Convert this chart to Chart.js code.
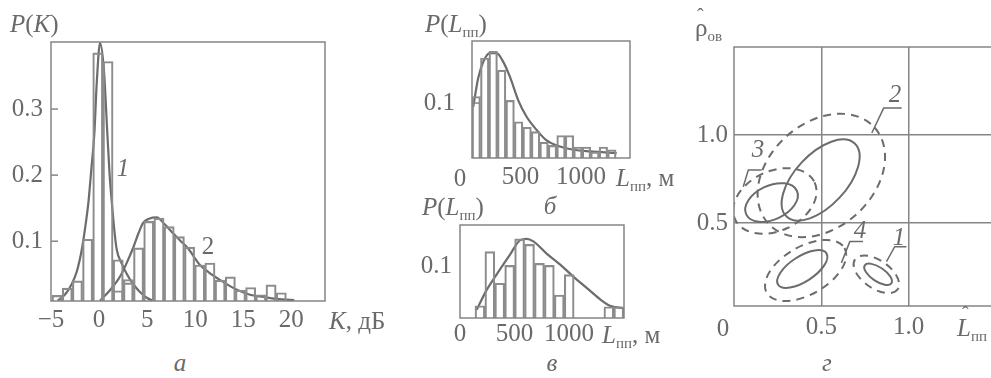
<!DOCTYPE html>
<html><head><meta charset="utf-8">
<script src="https://cdn.jsdelivr.net/npm/chart.js@4.4.0/dist/chart.umd.min.js"></script>
<style>
html,body{margin:0;padding:0;background:#fff;width:991px;height:378px;overflow:hidden;position:relative;}
canvas{position:absolute;}
.t{position:absolute;font-family:"Liberation Serif","Times New Roman",serif;font-size:25px;color:#6a6a6a;line-height:1;white-space:nowrap;transform:translate(-50%,-50%);}
.l{transform:translate(0,-50%);}
.s{font-size:15px;position:relative;top:5px;font-style:normal;}
.h{position:relative;display:inline-block;}
.hat{position:absolute;left:5px;top:-11px;font-style:normal;font-size:20px;}
</style></head><body>
<canvas id="ca" width="340" height="345" style="left:0;top:0"></canvas>
<canvas id="cb" width="230" height="200" style="left:420px;top:0"></canvas>
<canvas id="cv" width="250" height="170" style="left:400px;top:190px"></canvas>
<canvas id="cg" width="310" height="378" style="left:690px;top:0"></canvas>

<div class="t l" style="left:10px;top:23px"><i>P</i>(<i>K</i>)</div>
<div class="t l" style="left:329px;top:320px"><i>K</i>, дБ</div>
<div class="t" style="left:123px;top:167px"><i>1</i></div>
<div class="t" style="left:208px;top:245px">2</div>
<div class="t" style="left:180px;top:362px"><i>а</i></div>

<div class="t l" style="left:425px;top:23px"><i>P</i>(<i>L</i><span class="s">пп</span>)</div>
<div class="t" style="left:460px;top:177px">0</div>
<div class="t l" style="left:616px;top:177px"><i>L</i><span class="s">пп</span>, м</div>
<div class="t" style="left:550px;top:205px"><i>б</i></div>

<div class="t l" style="left:422px;top:206px"><i>P</i>(<i>L</i><span class="s">пп</span>)</div>
<div class="t l" style="left:602px;top:334px"><i>L</i><span class="s">пп</span>, м</div>
<div class="t" style="left:552px;top:362px"><i>в</i></div>

<div class="t l" style="left:695px;top:27px"><span class="h">ρ<span class="hat" style="left:2px;top:-9px">ˆ</span></span><span class="s">ов</span></div>
<div class="t" style="left:723px;top:327px">0</div>
<div class="t l" style="left:957px;top:327px"><span class="h"><i>L</i><span class="hat">ˆ</span></span><span class="s">пп</span></div>
<div class="t" style="left:827px;top:362px"><i>г</i></div>
<div class="t" style="left:899px;top:236px"><i>1</i></div>
<div class="t" style="left:895px;top:93px"><i>2</i></div>
<div class="t" style="left:758px;top:148px"><i>3</i></div>
<div class="t" style="left:860px;top:229px"><i>4</i></div>

<script>
// ---------- Panel а: K, dB ----------
const kBins = [-4.37,-3.31,-2.25,-1.19,-0.13,0.93,1.99,3.05,4.11,5.17,6.23,7.29,8.35,9.41,10.47,11.53,12.59,13.65,14.71,15.77,16.83,17.89,18.95];
const histK1 = [0.018,0.029,0.04,0.103,0.385,0.372,0.072,0.042,null,null,null,null,null,null,null,null,null,null,null,null,null,null,null];
const histK2 = [null,null,null,null,null,null,0.025,0.037,0.09,0.13,0.135,0.122,0.107,0.091,0.064,0.067,0.041,0.046,0.026,0.03,0.019,0.034,0.022];
const curve1K = [-4.3,-3.5,-2.85,-2.3,-1.8,-1.45,-1.1,-0.8,-0.49,-0.24,0.1,0.5,0.86,1.1,1.32,1.6,1.84,2.3,2.9,3.5,4.2,5.0,5.6];
const curve1P = [0.01,0.02,0.035,0.055,0.087,0.12,0.16,0.21,0.263,0.34,0.40,0.36,0.263,0.2,0.16,0.115,0.087,0.068,0.05,0.036,0.024,0.014,0.01];
const curve2K = [0.1,1.2,2.2,2.9,3.6,4.1,4.6,5.2,6.0,6.8,7.7,8.5,9.2,10.5,11.4,12.3,14.0,15.7,17.4,19.0,20.3];
const curve2P = [0.01,0.027,0.047,0.068,0.092,0.112,0.128,0.134,0.136,0.126,0.112,0.1,0.09,0.064,0.053,0.044,0.029,0.019,0.015,0.012,0.011];
const xTicksA = [-5,0,5,10,15,20];
const yTicksA = [0.1,0.2,0.3];

// ---------- Panel б ----------
const lBinsB = [135,205,275,345,415,485,555,625,695,765,835,905,975,1045,1115,1185,1255];
const histB = [0.112,0.182,0.194,0.160,0.105,0.066,0.056,0.048,0.029,0.023,0.041,0.041,0.020,0.020,0.011,0.020,0.015];
const curveBL = [110,151,193,248,303,358,413,482,551,634,716,826,937,1074,1295];
const curveBP = [0.093,0.145,0.175,0.191,0.191,0.175,0.148,0.105,0.075,0.051,0.032,0.021,0.015,0.012,0.009];
const xTicksB = [500,1000];
const yTicksB = [0.1];

// ---------- Panel в ----------
const lBinsV = [183,274,365,456,547,638,729,820,911,1002,1093,1184,1275,1366,1457];
const histV = [0.024,0.13,0.068,0.103,0.155,0.144,0.107,0.103,0.045,0.085,null,null,null,0.022,0.022];
const curveVL = [153,245,367,459,550,612,673,795,917,1040,1162,1284,1376,1498];
const curveVP = [0.016,0.055,0.095,0.124,0.152,0.155,0.15,0.126,0.105,0.081,0.059,0.037,0.024,0.019];
const xTicksV = [0,500,1000];
const yTicksV = [0.1];

// ---------- Panel г: ellipses (centre, semi-axes, tilt) ----------
const ellName = ['2','2','3','3','4','4','1','1'];
const ellCx  = [0.496,0.50,0.215,0.234,0.391,0.41,0.825,0.815];
const ellCy  = [0.744,0.77,0.616,0.625,0.238,0.23,0.208,0.208];
const ellA   = [0.286,0.41,0.16,0.251,0.165,0.257,0.092,0.149];
const ellB   = [0.148,0.30,0.097,0.171,0.072,0.137,0.04,0.08];
const ellAng = [47,42,25,25,33,30,-34,-35];
const ellDash= [false,true,false,true,false,true,false,true];
const lead1 = [[0.873,0.28],[0.92,0.365],[0.987,0.365]];
const lead2 = [[0.789,1.011],[0.857,1.153],[0.96,1.153]];
const lead3 = [[0.053,0.706],[0.082,0.801],[0.158,0.801]];
const lead4 = [[0.615,0.273],[0.663,0.394],[0.739,0.394]];
const gTicks = [0.5,1.0];

// ---------- common ----------
const TXT = '#6a6a6a', LINE = '#6c6c6c', BARC = '#8c8c8c', FRAME = '#858585';
const FONT = {family:"'Liberation Serif', serif", size:25};

const framePlugin = {
  id:'frame',
  afterDatasetsDraw(chart, args, o){
    const {ctx, chartArea:a} = chart;
    ctx.save();
    ctx.strokeStyle = o.color; ctx.lineWidth = o.width; ctx.setLineDash([]);
    ctx.strokeRect(a.left, a.top, a.right-a.left, a.bottom-a.top);
    if (o.inner){
      const ys = chart.scales.y;
      ys.ticks.forEach(t=>{const p=ys.getPixelForValue(t.value);ctx.beginPath();ctx.moveTo(a.left,p);ctx.lineTo(a.left+o.inner,p);ctx.stroke();});
    }
    ctx.restore();
  }
};
const ellipsePlugin = {
  id:'ellipses',
  afterDatasetsDraw(chart, args, o){
    if(!o.cx) return;
    const {ctx, chartArea:a, scales:{x,y}} = chart;
    ctx.save();
    ctx.beginPath(); ctx.rect(a.left,a.top,a.right-a.left,a.bottom-a.top); ctx.clip();
    ctx.strokeStyle = o.color; ctx.lineWidth = o.width;
    o.cx.forEach((cx,i)=>{
      const px=x.getPixelForValue(cx), py=y.getPixelForValue(o.cy[i]);
      const ra=Math.abs(x.getPixelForValue(cx+o.a[i])-px), rb=Math.abs(x.getPixelForValue(cx+o.b[i])-px);
      ctx.setLineDash(o.dash[i]?[8,6]:[]);
      ctx.beginPath(); ctx.ellipse(px,py,ra,rb,-o.ang[i]*Math.PI/180,0,Math.PI*2); ctx.stroke();
    });
    ctx.restore();
  }
};

function axis(o){
  return {
    type:'linear', min:o.min, max:o.max, offset:false, beginAtZero:false,
    afterBuildTicks:s=>{s.ticks=o.ticks.map(v=>({value:v}));},
    afterFit:s=>{ if(s.isHorizontal()) s.height=o.size; else s.width=o.size; },
    ticks:{font:FONT,color:TXT,padding:o.pad,autoSkip:false,maxRotation:0,minRotation:0,callback:o.fmt},
    grid:{display:!!o.grid,drawTicks:false,color:FRAME,lineWidth:1.5,offset:false},
    border:{display:false}
  };
}
const pts = (xs,ys)=>xs.map((v,i)=>({x:v,y:ys[i]}));
const barDS = (xs,ys)=>({type:'bar',data:pts(xs,ys),backgroundColor:'rgba(255,255,255,0)',borderColor:BARC,borderWidth:1.5,barPercentage:1,categoryPercentage:1,grouped:false,clip:0});
const lineDS = (xs,ys)=>({type:'line',data:pts(xs,ys),borderColor:LINE,borderWidth:2.2,pointRadius:0,fill:false,cubicInterpolationMode:'monotone',clip:0});
const fmtInt = v => v<0 ? '\u2212'+Math.abs(v) : String(v);
const fmt1 = v => v.toFixed(1);

const charts = [];
function histChart(id, pad, ds, xa, ya, inner){
  charts.push(new Chart(document.getElementById(id), {
    type:'bar',
    data:{datasets:ds},
    options:{
      responsive:false, animation:false, devicePixelRatio:1,
      layout:{padding:pad},
      plugins:{legend:{display:false},tooltip:{enabled:false},frame:{color:FRAME,width:1.5,inner:inner},ellipses:{}},
      scales:{x:axis(xa), y:axis(ya)}
    },
    plugins:[framePlugin]
  }));
}

// а: box (51,42)-(325,301)
histChart('ca',{left:0,top:42,right:15,bottom:0},
  [barDS(kBins,histK1),barDS(kBins,histK2),lineDS(curve1K,curve1P),lineDS(curve2K,curve2P)],
  {min:-5,max:23.5,ticks:xTicksA,size:44,pad:4,fmt:fmtInt},
  {min:0.0095,max:0.4015,ticks:yTicksA,size:51,pad:8,fmt:fmt1},7);

// б: box (472,41)-(630,158)
histChart('cb',{left:0,top:41,right:20,bottom:0},
  [barDS(lBinsB,histB),lineDS(curveBL,curveBP)],
  {min:100,max:1405,ticks:xTicksB,size:42,pad:4,fmt:fmtInt},
  {min:0,max:0.213,ticks:yTicksB,size:52,pad:17,fmt:fmt1},7);

// в: box (460,225)-(624,318)
histChart('cv',{left:0,top:35,right:26,bottom:0},
  [barDS(lBinsV,histV),lineDS(curveVL,curveVP)],
  {min:0,max:1505,ticks:xTicksV,size:42,pad:1,fmt:fmtInt},
  {min:0,max:0.182,ticks:yTicksV,size:60,pad:8,fmt:fmt1},0);

// г: box (734,47)-(996,306)
const leadDS = p => ({data:p.map(q=>({x:q[0],y:q[1]})),showLine:true,borderColor:LINE,borderWidth:1.5,pointRadius:0,tension:0,fill:false});
charts.push(new Chart(document.getElementById('cg'), {
  type:'scatter',
  data:{datasets:[leadDS(lead1),leadDS(lead2),leadDS(lead3),leadDS(lead4)]},
  options:{
    responsive:false, animation:false, devicePixelRatio:1,
    layout:{padding:{left:0,top:47,right:4,bottom:0}},
    plugins:{legend:{display:false},tooltip:{enabled:false},
      frame:{color:FRAME,width:1.5,inner:0},
      ellipses:{cx:ellCx,cy:ellCy,a:ellA,b:ellB,ang:ellAng,dash:ellDash,color:LINE,width:2}},
    scales:{
      x:axis({min:0,max:1.5,ticks:gTicks,size:72,pad:6,fmt:fmt1,grid:true}),
      y:axis({min:0.028,max:1.5,ticks:gTicks,size:44,pad:6,fmt:fmt1,grid:true})
    }
  },
  plugins:[ellipsePlugin, framePlugin]
}));

if (document.fonts && document.fonts.load) {
  document.fonts.load("25px 'Liberation Serif'").then(()=>charts.forEach(c=>c.update('none')));
}
</script>
</body></html>
